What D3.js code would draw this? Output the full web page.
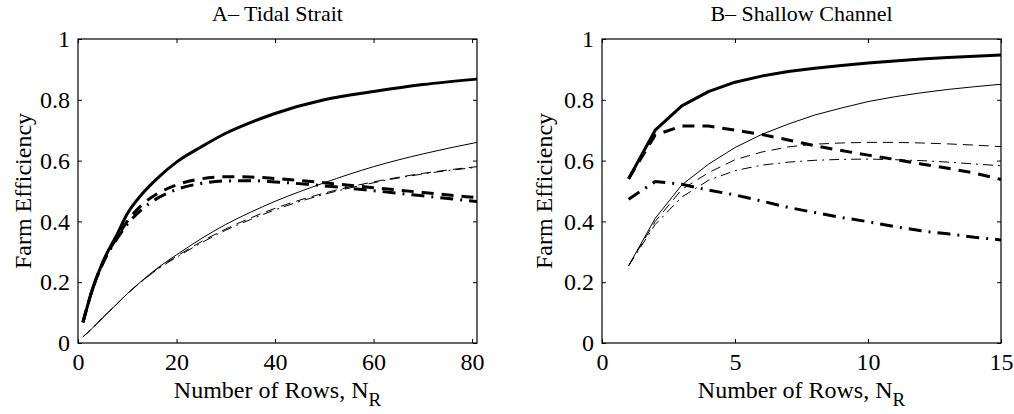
<!DOCTYPE html>
<html><head><meta charset="utf-8">
<script src="https://cdn.jsdelivr.net/npm/d3@7"></script>
<style>
body{margin:0;background:#fff;}
svg text{font-family:"Liberation Serif","Times New Roman",serif;fill:#000;}
</style></head>
<body><svg id="c" width="1014" height="414"></svg>
<script>
// ---- Panel A: Tidal Strait ----
const nA = [1,3,5,8,10,13,16,20,25,30,35,40,50,60,70,81];
const aThickSolid   = [0.068,0.18,0.265,0.36,0.425,0.49,0.54,0.595,0.645,0.69,0.725,0.755,0.80,0.827,0.85,0.868];
const aThickDashed  = [0.068,0.18,0.262,0.35,0.40,0.455,0.49,0.52,0.54,0.547,0.546,0.541,0.527,0.511,0.495,0.478];
const aThickDashDot = [0.068,0.18,0.26,0.345,0.39,0.44,0.475,0.505,0.525,0.533,0.534,0.53,0.517,0.501,0.484,0.465];
const aThinSolid    = [0.02,0.05,0.083,0.13,0.162,0.205,0.245,0.29,0.343,0.39,0.43,0.466,0.527,0.58,0.622,0.66];
const aThinDashed   = [0.02,0.05,0.083,0.13,0.162,0.204,0.243,0.285,0.333,0.375,0.411,0.443,0.493,0.53,0.558,0.58];
const aThinDashDot  = [0.02,0.05,0.083,0.13,0.162,0.203,0.241,0.282,0.329,0.371,0.406,0.438,0.489,0.527,0.556,0.578];
// ---- Panel B: Shallow Channel ----
const nB = [1,2,3,4,5,6,7,8,9,10,11,12,13,14,15];
const bThickSolid   = [0.54,0.70,0.78,0.827,0.858,0.878,0.893,0.904,0.913,0.921,0.928,0.934,0.939,0.943,0.947];
const bThickDashed  = [0.54,0.684,0.714,0.714,0.70,0.686,0.668,0.649,0.633,0.618,0.604,0.589,0.575,0.559,0.538];
const bThickDashDot = [0.473,0.531,0.522,0.503,0.487,0.467,0.446,0.429,0.413,0.399,0.383,0.369,0.359,0.348,0.339];
const bThinSolid    = [0.254,0.41,0.52,0.588,0.643,0.686,0.72,0.75,0.773,0.794,0.81,0.823,0.834,0.843,0.851];
const bThinDashed   = [0.254,0.40,0.505,0.56,0.603,0.628,0.645,0.654,0.658,0.66,0.66,0.658,0.655,0.651,0.646];
const bThinDashDot  = [0.254,0.39,0.48,0.535,0.567,0.585,0.595,0.601,0.604,0.605,0.603,0.60,0.595,0.589,0.583];

const xTicksA = [0,20,40,60,80];
const xTicksB = [0,5,10,15];
const yTicks = [0,0.2,0.4,0.6,0.8,1];

const styles = {
  thickSolid:{w:3,dash:null},
  thickDashed:{w:3,dash:"12,8"},
  thickDashDot:{w:3,dash:"13,7,2,7"},
  thinSolid:{w:1,dash:null},
  thinDashed:{w:1,dash:"10,6"},
  thinDashDot:{w:1,dash:"10,5,2,5"}
};

const panels = [
  {title:"A\u2013 Tidal Strait", left:78, right:477, xmax:81, n:nA, xticks:xTicksA, ylabX:22,
   series:{thickSolid:aThickSolid,thickDashed:aThickDashed,thickDashDot:aThickDashDot,thinSolid:aThinSolid,thinDashed:aThinDashed,thinDashDot:aThinDashDot}},
  {title:"B\u2013 Shallow Channel", left:602, right:1001, xmax:15, n:nB, xticks:xTicksB, ylabX:543,
   series:{thickSolid:bThickSolid,thickDashed:bThickDashed,thickDashDot:bThickDashDot,thinSolid:bThinSolid,thinDashed:bThinDashed,thinDashDot:bThinDashDot}}
];
const plotTop=39, plotBottom=343;
const svg = d3.select("#c");

panels.forEach(p=>{
  const x = d3.scaleLinear().domain([0,p.xmax]).range([p.left,p.right]);
  const y = d3.scaleLinear().domain([0,1]).range([plotBottom,plotTop]);
  const g = svg.append("g");
  const line = d3.line().x((d,i)=>x(p.n[i])).y(d=>y(d)).curve(p.xmax>20?d3.curveMonotoneX:d3.curveLinear);
  Object.keys(p.series).forEach(k=>{
    const s = styles[k];
    g.append("path").datum(p.series[k]).attr("d",line)
      .attr("fill","none").attr("stroke","#000").attr("stroke-width",s.w)
      .attr("stroke-dasharray",s.dash).attr("stroke-linejoin","round");
  });
  const fs = 24;
  const ax = g.append("g").attr("transform",`translate(0,${plotBottom})`)
    .call(d3.axisBottom(x).tickValues(p.xticks).tickSize(-4).tickPadding(10).tickFormat(d3.format("d")));
  const axT = g.append("g").attr("transform",`translate(0,${plotTop})`)
    .call(d3.axisTop(x).tickValues(p.xticks).tickSize(-4).tickFormat(""));
  const ay = g.append("g").attr("transform",`translate(${p.left},0)`)
    .call(d3.axisLeft(y).tickValues(yTicks).tickSize(-4).tickPadding(8).tickFormat(d=>d===0?"0":d===1?"1":d3.format(".1f")(d)));
  const ayR = g.append("g").attr("transform",`translate(${p.right},0)`)
    .call(d3.axisRight(y).tickValues(yTicks).tickSize(-4).tickFormat(""));
  [ax,axT,ay,ayR].forEach(a=>{
    a.select(".domain").remove();
    a.selectAll("line").attr("stroke","#000").attr("stroke-width",1);
    a.selectAll("text").style("font-size",fs+"px").style("font-family","'Liberation Serif', serif");
  });
  ax.selectAll("text").attr("dy","0.71em");
  g.append("rect").attr("x",p.left).attr("y",plotTop).attr("width",p.right-p.left).attr("height",plotBottom-plotTop)
    .attr("fill","none").attr("stroke","#000").attr("stroke-width",1.2);
  g.append("text").attr("x",(p.left+p.right)/2).attr("y",21).attr("text-anchor","middle")
    .style("font-size","22px").text(p.title);
  const xl = g.append("text").attr("x",(p.left+p.right)/2).attr("y",398).attr("text-anchor","middle")
    .style("font-size",fs+"px");
  xl.append("tspan").text("Number of Rows, N");
  xl.append("tspan").attr("dy",8).style("font-size","19px").text("R");
  g.append("text").attr("transform",`translate(${p.ylabX+9},${(plotTop+plotBottom)/2}) rotate(-90)`)
    .attr("text-anchor","middle").style("font-size",fs+"px").text("Farm Efficiency");
});
</script></body></html>
